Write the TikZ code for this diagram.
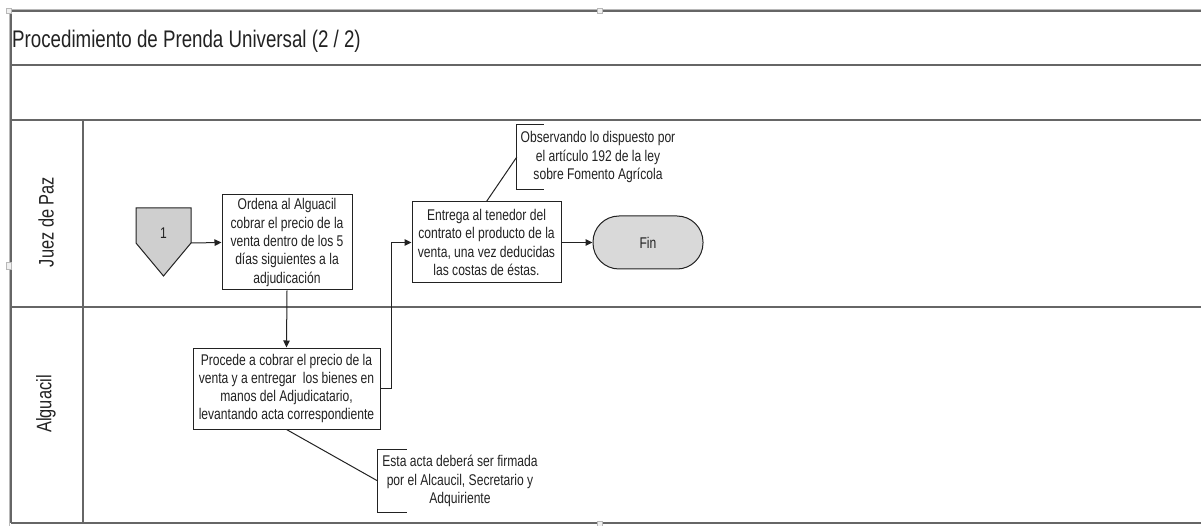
\documentclass[tikz,border=0pt]{standalone}
\usepackage{fontspec}
\setmainfont[FakeStretch=0.78]{Liberation Sans}
\usetikzlibrary{arrows.meta}

\definecolor{txt}{HTML}{222222}
\definecolor{boxline}{HTML}{222222}
\definecolor{lanegray}{HTML}{666666}
\definecolor{framegray}{HTML}{B8B8B8}
\definecolor{connfill}{HTML}{CFCFCF}
\definecolor{finfill}{HTML}{D9D9D9}

\tikzset{
  laneline/.style={draw=lanegray, line width=1.5pt},
  stepbox/.style={draw=boxline, line width=1pt, fill=white, align=center,
    text=txt, inner sep=0pt, font=\fontsize{15.5}{18.3}\selectfont},
  endbox/.style={stepbox, fill=finfill, rounded corners=26pt},
  notetext/.style={align=center, text=txt, inner sep=0pt,
    font=\fontsize{15.5}{18.3}\selectfont},
  notebracket/.style={draw=boxline, line width=1pt},
  flow/.style={draw=boxline, line width=1pt, -{Triangle[length=7pt,width=6.5pt]}},
  noteline/.style={draw=boxline, line width=1pt},
  lanelabel/.style={rotate=90, text=txt, inner sep=0pt,
    font=\fontsize{21}{24}\selectfont},
  handle/.style={draw=framegray, fill=gray!12, line width=0.6pt}
}

\begin{document}
\begin{tikzpicture}[x=1pt, y=-1pt]
  \useasboundingbox (0,0) rectangle (1201,526);

  % outer selection frame
  \draw[framegray, line width=0.8pt] (9,9) -- (1201,9);
  \draw[framegray, line width=0.8pt] (9,9) -- (9,526);

  % pool frame and lanes
  \draw[laneline] (11,11) -- (1201,11);
  \draw[laneline] (11,11) -- (11,523);
  \draw[laneline] (11,65) -- (1201,65);
  \draw[laneline] (11,120) -- (1201,120);
  \draw[laneline] (11,307) -- (1201,307);
  \draw[laneline] (11,523) -- (1201,523);
  \draw[laneline] (83,120) -- (83,523);

  % handles
  \draw[handle] (6.5,8.5) rectangle ++(5,5);
  \draw[handle] (597.5,8.5) rectangle ++(5,5);
  \draw[handle] (6.5,262.5) rectangle ++(5,7);
  \draw[handle] (597.5,521) rectangle ++(5,5);

  % title
  \node[anchor=base west, text=txt, inner sep=0pt,
        font=\fontsize{24}{27}\selectfont] (title) at (12,48)
        {Procedimiento de Prenda Universal (2 / 2)};

  % lane names
  \node[lanelabel] (laneJ) at (46,222) {Juez de Paz};
  \node[lanelabel] (laneA) at (46,404) {Alguacil};

  % off-page connector
  \draw[draw=boxline, line width=1pt, fill=connfill]
    (136,208) -- (191,208) -- (191,243) -- (163.5,276) -- (136,243) -- cycle;
  \node[text=txt, inner sep=0pt, font=\fontsize{15.5}{16}\selectfont] (conn) at (163.5,233) {1};
  \coordinate (connR) at (191,243);

  % process steps
  \node[stepbox, minimum width=130pt, minimum height=95pt] (ordena) at (287,242.5)
    {Ordena al Alguacil\\cobrar el precio de la\\venta dentro de los 5\\días siguientes a la\\adjudicación};
  \node[stepbox, minimum width=149pt, minimum height=81pt] (entrega) at (486.5,242.5)
    {Entrega al tenedor del\\contrato el producto de la\\venta, una vez deducidas\\las costas de éstas.};
  \node[endbox, minimum width=110pt, minimum height=53pt] (fin) at (648,242.5) {Fin};
  \node[stepbox, minimum width=187pt, minimum height=81pt] (procede) at (286.5,388.5)
    {Procede a cobrar el precio de la\\venta y a entregar\ \ los bienes en\\manos del Adjudicatario,\\levantando acta correspondiente};

  % annotations
  \node[notetext, minimum width=162pt, minimum height=64pt] (nota1) at (598,157)
    {Observando lo dispuesto por\\el artículo 192 de la ley\\sobre Fomento Agrícola};
  \draw[notebracket] ([xshift=27pt]nota1.north west) -- (nota1.north west)
    -- (nota1.south west) -- ([xshift=27pt]nota1.south west);
  \node[notetext, minimum width=164pt, minimum height=62pt] (nota2) at (460,481)
    {Esta acta deberá ser firmada\\por el Alcaucil, Secretario y\\Adquiriente};
  \draw[notebracket] ([xshift=29pt]nota2.north west) -- (nota2.north west)
    -- (nota2.south west) -- ([xshift=29pt]nota2.south west);

  % flow
  \draw[flow] (connR) -- (ordena.west);
  \draw[flow] (ordena.south) -- (procede.north);
  \draw[flow] (procede.east) -- ++(11,0) |- (entrega.west);
  \draw[flow] (entrega.east) -- (fin.west);
  \draw[noteline] (entrega.north) -- (nota1.west);
  \draw[noteline] (procede.south) -- (nota2.west);
\end{tikzpicture}
\end{document}
